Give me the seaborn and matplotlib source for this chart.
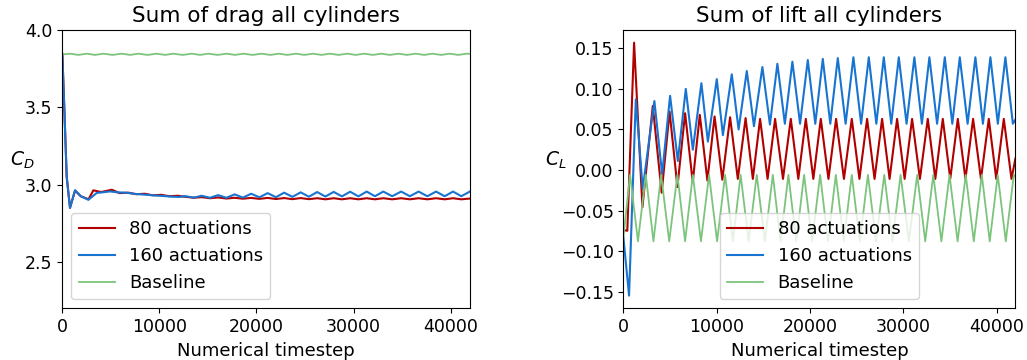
import numpy as np
import pandas as pd
import matplotlib
matplotlib.use('Agg')
import matplotlib.pyplot as plt
import seaborn as sns

# ---- data (extrema of each signal) ----
series_names = ['80 actuations', '160 actuations', 'Baseline']
series_colors = ['#b00000', '#1874d0', '#7cc47c']

# drag, 80 actuations
drag_80_t = [0, 200, 450, 790, 1310, 1900, 2700, 3190, 4000, 5090, 5900, 6800, 7600, 8500,
             9300, 10200, 11000, 11900, 12700, 13550, 14350, 15200, 16050, 16900, 17750,
             18600, 19450, 20300, 21150, 22000, 22850, 23700, 24550, 25400, 26250, 27100,
             27950, 28800, 29650, 30500, 31350, 32200, 33060, 33980, 34900, 35800, 36700,
             37600, 38500, 39380, 40250, 41100, 42000]
drag_80_v = [3.845, 3.5, 3.05, 2.85, 2.962, 2.925, 2.905, 2.963, 2.952, 2.967, 2.945, 2.948,
             2.938, 2.941, 2.931, 2.934, 2.925, 2.928, 2.921, 2.915, 2.919, 2.912, 2.917,
             2.910, 2.915, 2.909, 2.914, 2.908, 2.914, 2.907, 2.913, 2.906, 2.913, 2.906,
             2.912, 2.905, 2.912, 2.905, 2.912, 2.905, 2.912, 2.905, 2.912, 2.905, 2.912,
             2.905, 2.912, 2.905, 2.912, 2.905, 2.912, 2.905, 2.910]

# drag, 160 actuations
drag_160_t = [0, 200, 450, 790, 1310, 1900, 2680, 3540, 4100, 4910, 5700, 6500, 7500, 8500,
              9500, 10500, 11300, 12000, 12700, 13550, 14350, 15200, 16050, 16900, 17750,
              18600, 19450, 20300, 21150, 22000, 22850, 23700, 24550, 25400, 26250, 27100,
              27950, 28800, 29650, 30500, 31350, 32200, 33060, 33980, 34900, 35800, 36700,
              37600, 38500, 39380, 40250, 41100, 42000]
drag_160_v = [3.845, 3.5, 3.05, 2.849, 2.963, 2.925, 2.902, 2.946, 2.950, 2.956, 2.950,
              2.948, 2.940, 2.935, 2.930, 2.926, 2.922, 2.920, 2.925, 2.916, 2.928, 2.915,
              2.932, 2.915, 2.937, 2.916, 2.941, 2.918, 2.945, 2.919, 2.948, 2.921, 2.950,
              2.922, 2.952, 2.923, 2.953, 2.924, 2.954, 2.924, 2.955, 2.925, 2.955, 2.925,
              2.955, 2.925, 2.955, 2.925, 2.955, 2.925, 2.955, 2.925, 2.956]

# drag, baseline
drag_base_t = [0, 790, 1650, 2510, 3370, 4220, 5170, 6120, 6980, 7830, 8780, 9720, 10580,
               11430, 12380, 13330, 14190, 15040, 15990, 16930, 17790, 18640, 19590, 20540,
               21420, 22300, 23180, 24060, 24940, 25820, 26700, 27580, 28460, 29340, 30220,
               31100, 31980, 32860, 33740, 34620, 35500, 36380, 37260, 38140, 39020, 39900,
               40780, 41660, 42000]
drag_base_v = [3.842, 3.847, 3.839, 3.847, 3.839, 3.847, 3.839, 3.847, 3.839, 3.847, 3.839,
               3.847, 3.839, 3.847, 3.839, 3.847, 3.839, 3.847, 3.839, 3.847, 3.839, 3.847,
               3.839, 3.847, 3.839, 3.847, 3.839, 3.847, 3.839, 3.847, 3.839, 3.847, 3.839,
               3.847, 3.839, 3.847, 3.839, 3.847, 3.839, 3.847, 3.839, 3.847, 3.839, 3.847,
               3.839, 3.847, 3.839, 3.847, 3.846]

# lift, 80 actuations
lift_80_t = [0, 420, 1146, 2040, 3150, 4100, 4950, 5790, 6611, 7430, 8186, 9000, 9771, 10600,
             11432, 12260, 13093, 13870, 14646, 15450, 16254, 17100, 17936, 18740, 19543,
             20350, 21150, 21970, 22789, 23630, 24471, 25290, 26111, 26910, 27718, 28520,
             29325, 30130, 30932, 31770, 32614, 33420, 34221, 35020, 35829, 36650, 37468,
             38310, 39150, 39950, 40757, 41580, 42000]
lift_80_v = [-0.074, -0.075, 0.157, -0.046, 0.079, -0.028, 0.072, -0.021, 0.070, -0.015,
             0.068, -0.013, 0.066, -0.012, 0.065, -0.011, 0.064, -0.011, 0.063, -0.011,
             0.063, -0.011, 0.063, -0.011, 0.063, -0.011, 0.063, -0.011, 0.063, -0.011,
             0.063, -0.011, 0.063, -0.011, 0.063, -0.011, 0.063, -0.011, 0.063, -0.011,
             0.063, -0.011, 0.063, -0.011, 0.063, -0.011, 0.063, -0.011, 0.063, -0.011,
             0.063, -0.011, 0.014]

# lift, 160 actuations
lift_160_t = [0, 607, 1329, 2071, 3321, 4150, 5004, 5832, 6686, 7442, 8357, 9052, 10007,
              10662, 11614, 12343, 13221, 13989, 14893, 15700, 16500, 17300, 18107, 18930,
              19757, 20560, 21364, 22170, 22971, 23810, 24643, 25470, 26293, 27100, 27900,
              28700, 29507, 30340, 31178, 31980, 32786, 33610, 34436, 35240, 36043, 36880,
              37714, 38520, 39321, 40120, 40929, 41730, 42000]
lift_160_v = [-0.083, -0.155, 0.087, -0.023, 0.085, -0.005, 0.0915, 0.011, 0.100, 0.025,
              0.107, 0.035, 0.112, 0.043, 0.118, 0.050, 0.122, 0.054, 0.127, 0.056, 0.131,
              0.057, 0.1335, 0.057, 0.1356, 0.057, 0.137, 0.057, 0.138, 0.057, 0.139, 0.057,
              0.139, 0.057, 0.139, 0.057, 0.139, 0.057, 0.139, 0.057, 0.139, 0.057, 0.139,
              0.057, 0.139, 0.057, 0.139, 0.057, 0.139, 0.057, 0.139, 0.057, 0.062]

# lift, baseline
lift_base_t = [0, 718, 1560, 2400, 3220, 4040, 4910, 5790, 6610, 7440, 8310, 9180, 10040,
               10900, 11730, 12560, 13420, 14290, 15150, 16010, 16840, 17680, 18520, 19360,
               20220, 21080, 21920, 22760, 23610, 24470, 25330, 26200, 27070, 27950, 28820,
               29700, 30590, 31480, 32340, 33200, 34070, 34940, 35810, 36680, 37540, 38400,
               39250, 40110, 40970, 41830, 42000]
lift_base_v = [-0.083, -0.006, -0.088, -0.006, -0.088, -0.006, -0.088, -0.006, -0.088,
               -0.006, -0.088, -0.006, -0.088, -0.006, -0.088, -0.006, -0.088, -0.006,
               -0.088, -0.006, -0.088, -0.006, -0.088, -0.006, -0.088, -0.006, -0.088,
               -0.006, -0.088, -0.006, -0.088, -0.006, -0.088, -0.006, -0.088, -0.006,
               -0.088, -0.006, -0.088, -0.006, -0.088, -0.006, -0.088, -0.006, -0.088,
               -0.006, -0.088, -0.006, -0.088, -0.006, -0.008]

drag_series = [(drag_80_t, drag_80_v), (drag_160_t, drag_160_v), (drag_base_t, drag_base_v)]
lift_series = [(lift_80_t, lift_80_v), (lift_160_t, lift_160_v), (lift_base_t, lift_base_v)]

plt.rcParams['font.family'] = ['DejaVu Sans']

fig = plt.figure(figsize=(10.27, 3.6), dpi=100)
ax_d = fig.add_axes([0.0607, 0.1436, 0.397, 0.773])
ax_l = fig.add_axes([0.607, 0.1436, 0.3817, 0.773])


def draw_panel(ax, series, title, ylabel, label_x, legend_loc):
    for (t, v), name, col in zip(series, series_names, series_colors):
        df = pd.DataFrame({'t': t, 'v': v})
        lw = 1.3 if name == 'Baseline' else 1.5
        sns.lineplot(data=df, x='t', y='v', ax=ax, color=col, lw=lw, label=name,
                     estimator=None, sort=False)
    ax.set_xlim(0, 42000)
    ax.set_title(title, fontsize=15.5)
    ax.set_xlabel('Numerical timestep', fontsize=13)
    ax.set_ylabel(ylabel, fontsize=13.5, rotation=0, ha='center', va='center')
    ax.yaxis.set_label_coords(label_x, 0.533)
    ax.tick_params(labelsize=12.5)
    ax.legend(loc=legend_loc, fontsize=13, handlelength=2.0)


draw_panel(ax_d, drag_series, 'Sum of drag all cylinders', '$C_D$', -0.099, 'lower left')
ax_d.set_ylim(2.2, 4.0)
ax_d.set_yticks([2.5, 3.0, 3.5, 4.0])

draw_panel(ax_l, lift_series, 'Sum of lift all cylinders', '$C_L$', -0.172, 'lower center')
ax_l.set_yticks([-0.15, -0.10, -0.05, 0.00, 0.05, 0.10, 0.15])

fig.savefig('out.png', dpi=100)
